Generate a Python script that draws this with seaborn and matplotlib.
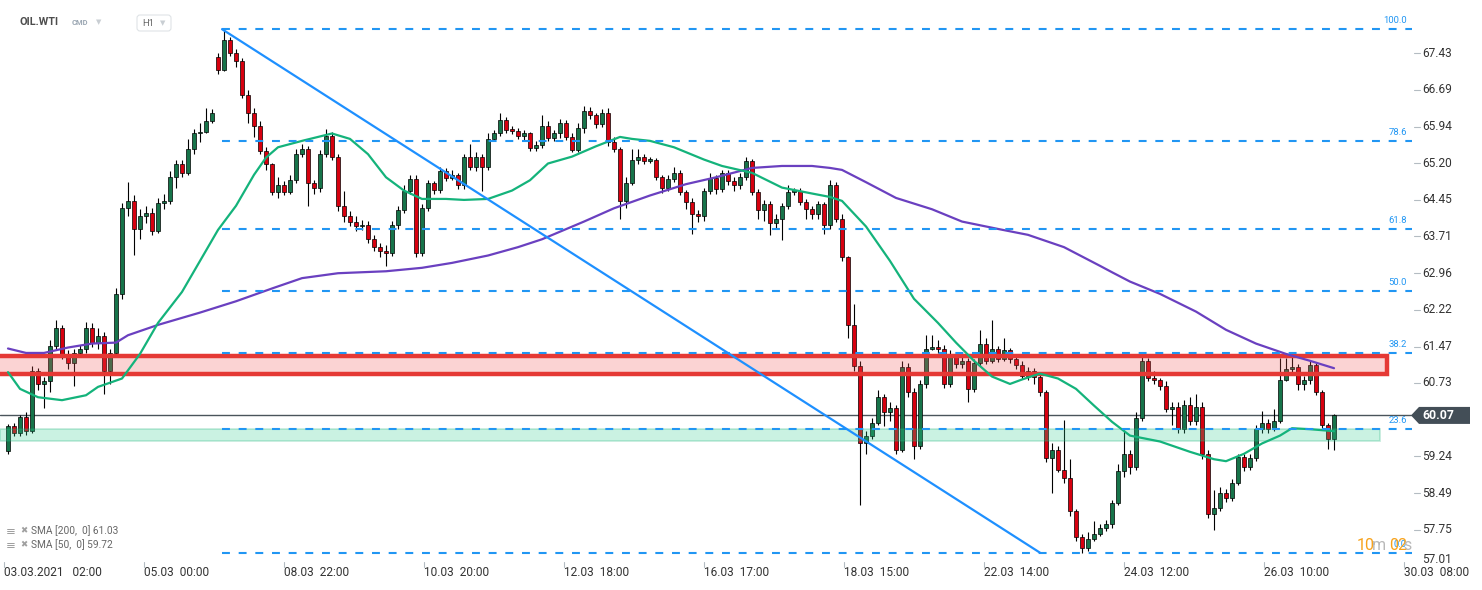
import numpy as np
import pandas as pd
import matplotlib
matplotlib.use("Agg")
import matplotlib.pyplot as plt
import matplotlib.transforms as mtransforms
from matplotlib.patches import Rectangle, Polygon, FancyBboxPatch
import seaborn as sns

# OIL.WTI, 2-hour candles (03.03.2021 - 26.03.2021)
opens = [
    59.35, 59.85, 59.71, 60.04, 59.75, 60.97, 60.71, 60.76, 61.49, 61.85,
    61.28, 61.13, 61.34, 61.43, 61.85, 61.55, 61.68, 60.97, 61.34, 62.54,
    64.28, 64.43, 63.86, 64.12, 64.18, 63.82, 64.39, 64.43, 64.91, 65.17,
    65.00, 65.48, 65.80, 65.84, 66.05, 67.35, 67.10, 67.69, 67.43, 67.27,
    66.59, 66.22, 65.96, 65.44, 65.17, 64.62, 64.75, 64.62, 64.85, 65.38,
    65.48, 64.79, 64.70, 65.38, 65.75, 65.33, 64.33, 64.12, 64.01, 63.91,
    63.95, 63.65, 63.49, 63.42, 63.38, 63.95, 64.24, 64.64, 64.87, 63.38,
    64.28, 64.79, 64.66, 65.04, 64.89, 64.96, 64.75, 65.33, 65.12, 65.33,
    65.12, 65.69, 65.80, 66.07, 65.88, 65.86, 65.75, 65.80, 65.50, 65.56,
    65.96, 65.71, 65.80, 66.01, 65.73, 65.46, 65.92, 66.26, 66.17, 65.99,
    66.22, 65.63, 65.48, 64.43, 64.79, 65.27, 65.33, 65.25, 65.27, 64.91,
    64.70, 64.87, 65.00, 64.62, 64.41, 64.16, 64.12, 64.64, 64.89, 64.68,
    65.00, 64.83, 64.75, 64.91, 65.25, 64.62, 64.24, 64.37, 63.99, 64.07,
    64.33, 64.62, 64.64, 64.41, 64.26, 64.16, 64.37, 63.95, 64.75, 64.07,
    63.28, 61.91, 61.07, 59.50, 59.66, 59.92, 60.44, 60.13, 60.23, 59.37,
    61.05, 60.55, 59.45, 60.71, 61.43, 61.47, 61.43, 60.71, 61.28, 61.11,
    61.18, 60.61, 61.13, 61.53, 61.18, 61.43, 61.22, 61.39, 61.22, 61.09,
    60.88, 60.97, 60.86, 60.55, 59.20, 59.37, 58.97, 58.80, 58.13, 57.59,
    57.37, 57.56, 57.65, 57.78, 57.86, 58.28, 58.95, 59.29, 59.03, 60.02,
    61.18, 60.84, 60.80, 60.67, 60.21, 60.25, 59.79, 60.29, 59.96, 60.25,
    59.29, 58.07, 58.19, 58.49, 58.40, 58.70, 59.22, 59.03, 59.20, 59.79,
    59.92, 59.79, 59.96, 60.80, 61.01, 61.05, 60.71, 60.80, 61.09, 60.55,
    59.87, 59.60,
]
highs = [
    59.90, 59.92, 60.08, 60.13, 61.07, 61.03, 60.86, 61.60, 62.01, 61.91,
    61.39, 61.43, 61.51, 61.97, 61.95, 61.85, 61.76, 61.43, 62.65, 64.39,
    64.81, 64.54, 64.26, 64.33, 64.28, 64.49, 64.58, 65.04, 65.27, 65.27,
    65.69, 65.90, 66.01, 66.32, 66.30, 67.43, 67.90, 67.77, 67.52, 67.33,
    66.68, 66.32, 66.05, 65.52, 65.21, 64.91, 64.83, 64.96, 65.48, 65.59,
    65.54, 64.85, 65.46, 65.90, 65.84, 65.38, 64.64, 64.22, 64.12, 64.05,
    64.03, 63.74, 63.57, 63.53, 64.03, 64.33, 64.75, 64.96, 64.96, 64.37,
    64.85, 64.83, 65.12, 65.10, 65.06, 65.00, 65.38, 65.59, 65.42, 65.38,
    65.80, 65.88, 66.22, 66.13, 65.96, 65.92, 65.88, 65.84, 65.65, 66.17,
    66.05, 65.88, 66.09, 66.07, 65.80, 66.01, 66.36, 66.34, 66.22, 66.30,
    66.32, 65.73, 65.52, 64.91, 65.48, 65.48, 65.38, 65.33, 65.31, 64.96,
    64.96, 65.12, 65.06, 64.66, 64.49, 64.24, 64.70, 65.00, 64.96, 65.06,
    65.06, 64.91, 65.00, 65.33, 65.29, 64.68, 64.45, 64.43, 64.16, 64.39,
    64.75, 64.70, 64.70, 64.47, 64.33, 64.43, 64.41, 64.85, 64.81, 64.16,
    63.32, 62.33, 61.18, 59.75, 60.02, 60.59, 60.50, 60.34, 60.29, 61.18,
    61.13, 60.63, 60.80, 61.70, 61.70, 61.60, 61.51, 61.39, 61.34, 61.26,
    61.24, 61.22, 61.81, 61.64, 62.01, 61.49, 61.64, 61.45, 61.28, 61.18,
    61.05, 61.03, 60.92, 60.59, 59.50, 59.45, 59.98, 59.18, 58.17, 57.65,
    57.71, 57.92, 57.86, 57.94, 58.36, 59.08, 59.77, 59.37, 60.13, 61.28,
    61.24, 60.97, 60.84, 60.76, 60.34, 60.34, 60.38, 60.44, 60.50, 60.34,
    59.37, 58.55, 58.61, 58.57, 58.78, 59.29, 59.29, 59.29, 59.87, 60.17,
    60.00, 60.21, 61.24, 61.24, 61.28, 61.11, 60.88, 61.18, 61.13, 60.59,
    59.92, 60.10,
]
lows = [
    59.29, 59.66, 59.66, 59.68, 59.71, 60.59, 60.23, 60.55, 61.43, 61.22,
    61.01, 60.67, 61.28, 61.34, 61.47, 61.43, 60.50, 60.71, 61.28, 62.44,
    64.12, 63.34, 63.65, 63.99, 63.74, 63.78, 64.26, 64.37, 64.70, 64.91,
    64.96, 65.38, 65.63, 65.80, 66.01, 67.01, 67.06, 67.37, 67.16, 66.53,
    66.01, 65.73, 65.38, 65.06, 64.54, 64.49, 64.54, 64.58, 64.79, 65.33,
    64.33, 64.58, 64.62, 65.33, 65.27, 64.22, 64.01, 63.91, 63.82, 63.84,
    63.57, 63.42, 63.28, 63.11, 63.32, 63.86, 64.18, 64.58, 63.28, 63.30,
    64.22, 64.58, 64.60, 64.83, 64.85, 64.68, 64.68, 65.06, 65.04, 64.64,
    65.06, 65.65, 65.75, 65.80, 65.78, 65.69, 65.67, 65.44, 65.44, 65.50,
    65.65, 65.65, 65.71, 65.67, 65.42, 65.42, 65.80, 66.09, 65.92, 65.94,
    65.54, 65.42, 64.07, 64.28, 64.75, 65.17, 65.17, 65.21, 64.85, 64.60,
    64.64, 64.81, 64.54, 64.26, 63.76, 64.01, 64.03, 64.58, 64.58, 64.62,
    64.75, 64.64, 64.68, 64.85, 64.56, 64.07, 64.03, 63.74, 63.86, 63.63,
    64.26, 64.54, 64.35, 64.07, 64.07, 64.07, 63.76, 63.86, 64.01, 63.21,
    61.64, 60.97, 58.24, 59.29, 59.60, 59.87, 59.85, 59.96, 59.29, 59.33,
    60.44, 59.18, 59.39, 60.63, 61.39, 61.34, 60.63, 60.65, 61.03, 61.03,
    60.34, 60.55, 61.07, 61.11, 61.13, 61.16, 61.18, 61.13, 61.01, 60.82,
    60.80, 60.71, 60.46, 59.12, 58.49, 58.91, 58.70, 58.03, 57.52, 57.27,
    57.31, 57.52, 57.61, 57.73, 57.78, 58.24, 58.82, 58.87, 58.97, 59.96,
    60.76, 60.71, 60.59, 60.13, 59.87, 59.71, 59.71, 59.87, 59.87, 59.18,
    57.98, 57.75, 58.13, 58.32, 58.34, 58.66, 58.95, 58.97, 59.14, 59.71,
    59.71, 59.75, 59.92, 60.76, 60.92, 60.59, 60.59, 60.71, 60.48, 59.81,
    59.39, 59.37,
]
closes = [
    59.85, 59.71, 60.04, 59.75, 60.97, 60.71, 60.76, 61.49, 61.85, 61.28,
    61.13, 61.34, 61.43, 61.85, 61.55, 61.68, 60.97, 61.34, 62.54, 64.28,
    64.43, 63.86, 64.12, 64.18, 63.82, 64.39, 64.43, 64.91, 65.17, 65.00,
    65.48, 65.80, 65.84, 66.05, 66.22, 67.10, 67.69, 67.43, 67.27, 66.59,
    66.22, 65.96, 65.44, 65.17, 64.62, 64.75, 64.62, 64.85, 65.38, 65.48,
    64.79, 64.70, 65.38, 65.75, 65.33, 64.33, 64.12, 64.01, 63.91, 63.95,
    63.65, 63.49, 63.42, 63.38, 63.95, 64.24, 64.64, 64.87, 63.38, 64.28,
    64.79, 64.66, 65.04, 64.89, 64.96, 64.75, 65.33, 65.12, 65.33, 65.12,
    65.69, 65.80, 66.07, 65.88, 65.86, 65.75, 65.80, 65.50, 65.56, 65.96,
    65.71, 65.80, 66.01, 65.73, 65.46, 65.92, 66.26, 66.17, 65.99, 66.22,
    65.63, 65.48, 64.43, 64.79, 65.27, 65.33, 65.25, 65.27, 64.91, 64.70,
    64.87, 65.00, 64.62, 64.41, 64.16, 64.12, 64.64, 64.89, 64.68, 65.00,
    64.83, 64.75, 64.91, 65.25, 64.62, 64.24, 64.37, 63.99, 64.07, 64.33,
    64.62, 64.64, 64.41, 64.26, 64.16, 64.37, 63.95, 64.75, 64.07, 63.28,
    61.91, 61.07, 59.50, 59.66, 59.92, 60.44, 60.13, 60.23, 59.37, 61.05,
    60.55, 59.45, 60.71, 61.43, 61.47, 61.43, 60.71, 61.28, 61.11, 61.18,
    60.61, 61.13, 61.53, 61.18, 61.43, 61.22, 61.39, 61.22, 61.09, 60.88,
    60.97, 60.86, 60.55, 59.20, 59.37, 58.97, 58.80, 58.13, 57.59, 57.37,
    57.56, 57.65, 57.78, 57.86, 58.28, 58.95, 59.29, 59.03, 60.02, 61.18,
    60.84, 60.80, 60.67, 60.21, 60.25, 59.79, 60.29, 59.96, 60.25, 59.29,
    58.07, 58.19, 58.49, 58.40, 58.70, 59.22, 59.03, 59.20, 59.79, 59.92,
    59.79, 59.96, 60.80, 61.01, 61.05, 60.71, 60.80, 61.09, 60.55, 59.87,
    59.60, 60.07,
]

# moving averages sampled along the chart (candle index, value)
sma200_idx = [0, 3, 6, 10, 14, 18, 20, 25, 32, 38, 44, 49, 55, 63, 69, 74, 80, 85,
              89, 96, 101, 107, 113, 118, 124, 129, 134, 137, 139, 143, 148, 154,
              159, 165, 170, 176, 182, 184, 187, 192, 198, 203, 208, 213, 217, 221]
sma200_vals = [61.43, 61.34, 61.34, 61.45, 61.53, 61.55, 61.70, 61.91, 62.16, 62.39,
               62.65, 62.86, 62.96, 63.00, 63.07, 63.17, 63.32, 63.49, 63.65, 64.01,
               64.28, 64.54, 64.77, 64.91, 65.10, 65.14, 65.14, 65.10, 65.06, 64.81,
               64.49, 64.26, 64.01, 63.86, 63.74, 63.49, 63.11, 62.98, 62.79, 62.54,
               62.18, 61.81, 61.53, 61.32, 61.18, 61.03]
sma50_idx = [0, 2, 5, 9, 13, 15, 19, 22, 25, 29, 32, 35, 38, 41, 43, 45, 49, 54, 57,
             60, 63, 66, 69, 73, 76, 80, 84, 87, 90, 94, 98, 102, 104, 107, 111, 116,
             119, 124, 129, 134, 137, 139, 143, 147, 151, 155, 158, 161, 164, 167,
             169, 172, 175, 178, 181, 184, 187, 192, 197, 201, 203, 206, 209, 212,
             214, 217, 221]
sma50_vals = [60.95, 60.61, 60.44, 60.38, 60.48, 60.65, 60.82, 61.32, 61.95, 62.58,
              63.21, 63.84, 64.33, 64.96, 65.31, 65.52, 65.65, 65.80, 65.69, 65.38,
              64.91, 64.64, 64.47, 64.47, 64.45, 64.47, 64.64, 64.85, 65.19, 65.33,
              65.54, 65.73, 65.69, 65.65, 65.52, 65.27, 65.14, 65.00, 64.70, 64.58,
              64.51, 64.43, 63.91, 63.21, 62.44, 61.95, 61.55, 61.18, 60.86, 60.71,
              60.80, 60.92, 60.82, 60.61, 60.27, 59.94, 59.66, 59.54, 59.33, 59.18,
              59.14, 59.29, 59.50, 59.66, 59.81, 59.79, 59.75]

fib_labels = ["100.0", "78.6", "61.8", "50.0", "38.2", "23.6", "0.0"]
fib_levels = [67.92, 65.65, 63.86, 62.60, 61.34, 59.79, 57.28]

trend_idx = [35.67, 172.0]
trend_vals = [67.92, 57.28]

resist_zone = (60.91, 61.28)
support_zone = (59.56, 59.79)
last_price = 60.07

price_ticks = [67.43, 66.69, 65.94, 65.20, 64.45, 63.71, 62.96, 62.22, 61.47,
               60.73, 59.24, 58.49, 57.75, 57.01]
date_labels = ["03.03.2021   02:00", "05.03  00:00", "08.03  22:00", "10.03  20:00",
               "12.03  18:00", "16.03  17:00", "18.03  15:00", "22.03  14:00",
               "24.03  12:00", "26.03  10:00", "30.03  08:00"]

# ---------------------------------------------------------------------------
sns.set_theme(style="white")
plt.rcParams["font.family"] = ["Roboto", "DejaVu Sans"]

W, H = 1482, 590
PX = 6.0  # pixels per 2h candle
GREEN, RED = "#17744a", "#d7000f"
FIB = "#2196f3"

fig = plt.figure(figsize=(W / 100, H / 100), dpi=100)
fig.patch.set_facecolor("white")
ax = fig.add_axes([0, 28 / H, 1415 / W, 562 / H])
ax.set_xlim(-8 / PX, 1407 / PX)
ax.set_ylim(57.091, 68.513)
ax.axis("off")
ppx = (68.513 - 57.091) / 562  # price per pixel

x_ax_y_data = mtransforms.blended_transform_factory(ax.transAxes, ax.transData)
x_data_y_ax = mtransforms.blended_transform_factory(ax.transData, ax.transAxes)

df = pd.DataFrame({"open": opens, "high": highs, "low": lows, "close": closes})
df["i"] = np.arange(len(df))
up = df["close"] >= df["open"]

# current price line
ax.plot([-8 / PX, 1411 / PX - 8 / PX], [last_price, last_price], color="#4a545b", lw=1, zorder=2)

# candles
ax.vlines(df["i"], df["low"], df["high"], color="black", lw=0.8, zorder=3)
body_lo = np.minimum(df["open"], df["close"])
body_h = np.maximum((df["close"] - df["open"]).abs(), 0.025)
ax.bar(df["i"], body_h, bottom=body_lo, width=0.58,
       color=np.where(up, GREEN, RED), edgecolor="black", linewidth=0.5, zorder=4)

# zones
zx0, zx1 = -5 / PX - 8 / PX, 1387 / PX - 8 / PX
ax.add_patch(Rectangle((zx0, resist_zone[0]), zx1 - zx0, resist_zone[1] - resist_zone[0],
                       facecolor="#f05050", alpha=0.25, edgecolor="none", zorder=5))
ax.add_patch(Rectangle((zx0, resist_zone[0]), zx1 - zx0, resist_zone[1] - resist_zone[0],
                       facecolor="none", edgecolor="#e53935", lw=3.2, zorder=6))
gx0, gx1 = -3 / PX - 8 / PX + 0.5, 1380 / PX - 8 / PX
ax.add_patch(Rectangle((gx0, support_zone[0]), gx1 - gx0, support_zone[1] - support_zone[0],
                       facecolor="#2ecc8f", alpha=0.25, edgecolor="#1bb27a", lw=1.3, zorder=5))

# moving averages
sma = pd.concat([
    pd.DataFrame({"i": sma200_idx, "v": sma200_vals, "s": "SMA200"}),
    pd.DataFrame({"i": sma50_idx, "v": sma50_vals, "s": "SMA50"}),
])
sns.lineplot(data=sma, x="i", y="v", hue="s", palette={"SMA200": "#6a40c0", "SMA50": "#14b37b"},
             lw=1.6, legend=False, ax=ax, zorder=7)
ax.axis("off")

# fibonacci levels
fib_x0, fib_x1 = trend_idx[0], 1412 / PX - 8 / PX
for lab, lev in zip(fib_labels, fib_levels):
    ax.plot([fib_x0, fib_x1], [lev, lev], color=FIB, lw=1.5, ls=(0, (3.8, 4.2)),
            solid_capstyle="butt", zorder=8)
    ax.text(1407 / 1415, lev + 8.5 * ppx, lab, transform=x_ax_y_data, ha="right", va="center",
            color=FIB, fontsize=6.8, zorder=9, clip_on=False)

# trend line
ax.plot(trend_idx, trend_vals, color="#1e90ff", lw=1.6, zorder=8)

# right price scale
for v in price_ticks:
    if v == price_ticks[-1]:
        ax.annotate(f"{v:.2f}", xy=(1422 / 1415, v), xycoords=x_ax_y_data, xytext=(0, 5),
                    textcoords="offset points", ha="left", va="center", fontsize=8.6,
                    color="#333333", annotation_clip=False)
        continue
    ax.plot([1414 / 1415, 1420 / 1415], [v, v], transform=x_ax_y_data, color="#b4bcc2",
            lw=0.8, clip_on=False)
    ax.text(1422 / 1415, v, f"{v:.2f}", transform=x_ax_y_data, ha="left", va="center",
            fontsize=8.6, color="#333333", clip_on=False)

# last price tag
hh = 8.5 * ppx
tag = Polygon([(1411 / 1415, last_price), (1419 / 1415, last_price + hh),
               (1470 / 1415, last_price + hh), (1470 / 1415, last_price - hh),
               (1419 / 1415, last_price - hh)], closed=True, transform=x_ax_y_data,
              facecolor="#434e57", edgecolor="none", clip_on=False, zorder=10)
ax.add_patch(tag)
ax.text(1422 / 1415, last_price, f"{last_price:.2f}", transform=x_ax_y_data, ha="left",
        va="center", color="white", fontsize=8.8, fontweight="bold", zorder=11, clip_on=False)

# time axis
for k, lab in enumerate(date_labels):
    xi = (4 + 140 * k - 8) / PX
    ax.plot([xi, xi], [0, -5 / 562], transform=x_data_y_ax, color="#b4bcc2", lw=0.8,
            clip_on=False)
    ax.text(xi, -11 / 562, lab, transform=x_data_y_ax, ha="left", va="center",
            fontsize=8.6, color="#333333", clip_on=False)


def fx(x):
    return x / W


def fy(y):
    return 1 - y / H


# header
fig.text(fx(20), fy(22), "OIL.WTI", fontsize=7.8, fontweight="bold", color="#4d4d4d",
         va="center", ha="left")
fig.text(fx(72), fy(23), "CMD", fontsize=5.4, fontweight="bold", color="#9aa6b2",
         va="center", ha="left")
fig.text(fx(96), fy(22), "▼", fontsize=5, color="#c9ced3", va="center", ha="left",
         family=["DejaVu Sans"])
fig.patches.append(FancyBboxPatch((137, H - 31), 34, 16,
                                  boxstyle="round,pad=0,rounding_size=3",
                                  transform=mtransforms.IdentityTransform(),
                                  facecolor="white", edgecolor="#dfe3e6", lw=0.8))
fig.text(fx(142), fy(23), "H1", fontsize=6.8, color="#666666", va="center", ha="left")
fig.text(fx(160), fy(23), "▼", fontsize=5, color="#c9ced3", va="center", ha="left",
         family=["DejaVu Sans"])

# indicator legend
for yy, lab in [(531, "SMA [200,  0] 61.03"), (545, "SMA [50,  0] 59.72")]:
    fig.text(fx(6), fy(yy), "≡", fontsize=8.5, color="#a0a0a0", va="center", ha="left",
             family=["DejaVu Sans"])
    fig.text(fx(20), fy(yy), "✖", fontsize=6.2, color="#a0a0a0", va="center", ha="left",
             family=["DejaVu Sans"])
    fig.text(fx(31), fy(yy), lab, fontsize=7.3, color="#666666", va="center", ha="left")

# candle countdown
fig.text(fx(1357), fy(545), "10", fontsize=11.5, color="#f7a21b", va="center", ha="left")
fig.text(fx(1372), fy(545), "m", fontsize=11.5, color="#b8b8b8", va="center", ha="left")
fig.text(fx(1389), fy(545), "02", fontsize=11.5, color="#f7a21b", va="center", ha="left")
fig.text(fx(1403), fy(545), "s", fontsize=11.5, color="#b8b8b8", va="center", ha="left")

fig.savefig("out.png", dpi=100, facecolor="white")
